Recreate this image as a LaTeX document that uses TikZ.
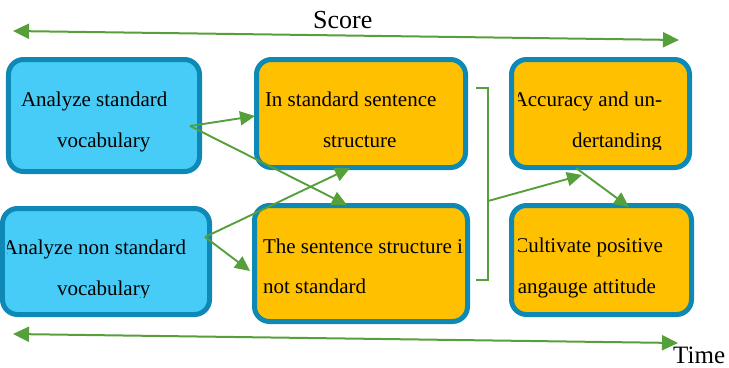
\documentclass[tikz,border=0pt]{standalone}
\usepackage{fontspec}
\setmainfont{Liberation Serif}
\usetikzlibrary{arrows.meta}
\definecolor{boxblue}{HTML}{47CCF7}
\definecolor{boxedge}{HTML}{0E88B4}
\definecolor{boxorange}{HTML}{FFC000}
\definecolor{linkgreen}{HTML}{55A03A}
\begin{document}
\begin{tikzpicture}[x=1bp,y=-1bp,
  boxbase/.style={draw=boxedge, line width=5bp, rounded corners=15bp, inner sep=0pt, outer sep=0pt},
  bluebox/.style={boxbase, fill=boxblue},
  orangebox/.style={boxbase, fill=boxorange},
  txt/.style={font=\fontsize{21bp}{25bp}\selectfont, inner sep=0pt, outer sep=0pt, anchor=base west},
  txte/.style={txt, anchor=base east},
  lbl/.style={font=\fontsize{26bp}{30bp}\selectfont, inner sep=0pt, anchor=base west},
  link/.style={draw=linkgreen, line width=1.9bp, -{Triangle[length=15bp,width=14bp]}},
  plainlink/.style={draw=linkgreen, line width=1.6bp},
  axisline/.style={draw=linkgreen, line width=2bp, {Triangle[length=16bp,width=15bp]}-{Triangle[length=16bp,width=15bp]}},
]
\useasboundingbox (0,0) rectangle (729,367);

% boxes
\node[bluebox, minimum width=191bp, minimum height=112bp] (A) at (104,115.5) {};
\node[orangebox, minimum width=209bp, minimum height=108bp] (B) at (361,113.5) {};
\node[orangebox, minimum width=178bp, minimum height=108bp] (C) at (600.5,113.5) {};
\node[bluebox, minimum width=207bp, minimum height=106bp] (D) at (106,261.5) {};
\node[orangebox, minimum width=213bp, minimum height=116bp] (E) at (361,263.5) {};
\node[orangebox, minimum width=180bp, minimum height=109bp] (F) at (601.5,260) {};

% texts
\node[txt] (a1t) at (21,106) {Analyze standard};
\node[txt] (a2t) at (57,147) {vocabulary};
\node[txt] (b1t) at (265,106) {In standard sentence};
\node[txt] (b2t) at (323,147) {structure};
\begin{scope}
  \clip (518,60) rectangle (690,149);
  \node[txte] (c1t) at (662,106) {Accuracy and un-};
  \node[txt] (c2t) at (572,147) {dertanding};
\end{scope}
\begin{scope}
  \clip (7,209) rectangle (209,297);
  \node[txte] (d1t) at (186,254) {Analyze non standard};
  \node[txt] (d2t) at (57,295) {vocabulary};
\end{scope}
\begin{scope}
  \clip (257,206) rectangle (463,321);
  \node[txt] (e1t) at (263,253) {The sentence structure is};
  \node[txt] (e2t) at (263,293) {not standard};
\end{scope}
\begin{scope}
  \clip (518,206) rectangle (691,314);
  \node[txte] (f1t) at (663,252) {Cultivate positive};
  \node[txte] (f2t) at (656,293) {langauge attitude};
\end{scope}

% labels
\node[lbl] (score) at (313,28) {Score};
\node[lbl, font=\fontsize{25bp}{30bp}\selectfont] (time) at (673,363) {Time};

% connector points
\coordinate (aOut) at (190,126);
\coordinate (dOut) at (205,237);
\coordinate (bIn) at (255,116);
\coordinate (eIn) at (347,205);
\coordinate (bBot) at (350,168);
\coordinate (eLeft) at (250,271);
\coordinate (br1) at (476,88);
\coordinate (br2) at (488,88);
\coordinate (br3) at (488,280);
\coordinate (br4) at (476,280);
\coordinate (brMid) at (488,201);
\coordinate (cIn) at (582,175);
\coordinate (cOut) at (576,168);
\coordinate (fIn) at (629,207);
\coordinate (s1) at (13,31);
\coordinate (s2) at (679,40);
\coordinate (t1) at (13,334);
\coordinate (t2) at (678,343);

\draw[link] (aOut) -- (bIn);
\draw[link] (aOut) -- (eIn);
\draw[link] (dOut) -- (bBot);
\draw[link] (dOut) -- (eLeft);
\draw[plainlink] (br1) -- (br2) -- (br3) -- (br4);
\draw[link] (brMid) -- (cIn);
\draw[link] (cOut) -- (fIn);
\draw[axisline] (s1) -- (s2);
\draw[axisline] (t1) -- (t2);
\end{tikzpicture}
\end{document}
